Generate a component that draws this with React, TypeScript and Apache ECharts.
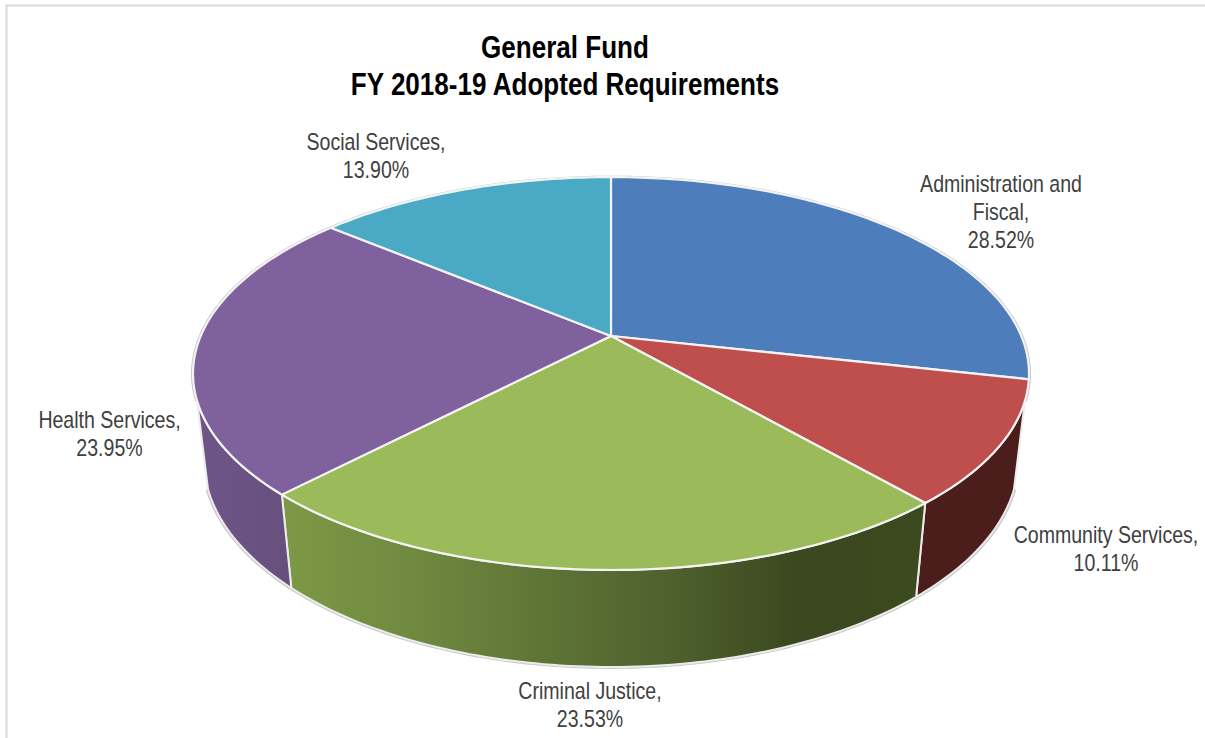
import React, { useEffect, useRef } from "react";
import * as echarts from "echarts";

const TITLE = "General Fund\nFY 2018-19 Adopted Requirements";
const CATEGORIES = ["Administration and\nFiscal", "Community Services", "Criminal Justice", "Health Services", "Social Services"];
const SHARES = [28.52, 10.11, 23.53, 23.95, 13.9];
const TOP_COLORS = ["#4d7ebb", "#bf4f4c", "#9bba59", "#7f619d", "#4aa9c4"];
const WALL_STOPS: string[][] = [
  ["#2c4a70", "#2c4a70"],
  ["#4b1e1c", "#4b1e1c", "#4a1d1b"],
  ["#7d9846", "#708a40", "#5f7536", "#4f612e", "#3b481f", "#3c4a20"],
  ["#6d5588", "#6a5283", "#674f7d"],
  ["#2c6a7c", "#2c6a7c"],
];
const LABEL_ANCHORS = [[1001, 212], [1106, 549], [590, 705], [109.5, 434], [376, 156]];

const FONT = '"Liberation Sans", Arial, sans-serif';
const LABEL_SCALE = 0.85;
const TITLE_SCALE = 0.827;

// Perspective projection of the pie disc
const CX = 611, APEX_Y = 336, A = 410.3, B = 189.3, K = 0.191, DEPTH = 86.9, W_DROP = 0.0255;
const SILHOUETTE_V = 0.322;
const total = SHARES.reduce((s, v) => s + v, 0);

function project(deg: number, bottom: boolean, r = 1): number[] {
  const a = (deg * Math.PI) / 180;
  const u = Math.sin(a) * r, v = -Math.cos(a) * r;
  const w = 1 - K * v + (bottom ? W_DROP : 0);
  return [CX + (A * u) / w, APEX_Y + (B * v + (bottom ? DEPTH : 0)) / w];
}
function arc(from: number, to: number, bottom: boolean, r = 1): number[][] {
  const n = Math.max(2, Math.ceil(Math.abs(to - from)));
  const pts: number[][] = [];
  for (let i = 0; i <= n; i++) pts.push(project(from + ((to - from) * i) / n, bottom, r));
  return pts;
}

const WALL_FROM = (Math.acos(-SILHOUETTE_V) * 180) / Math.PI;
const WALL_TO = 360 - WALL_FROM;

function renderSlice(params: any, api: any) {
  const idx = params.dataIndex;
  const value = api.value(0);
  let before = 0;
  for (let i = 0; i < idx; i++) before += SHARES[i];
  const a0 = (before / total) * 360;
  const a1 = ((before + value) / total) * 360;
  const children: any[] = [];

  // back rim
  const rimEnd = Math.min(a1, WALL_FROM);
  if (a0 < rimEnd) {
    children.push({ type: "polyline", shape: { points: arc(a0, rimEnd, false, 1.002) }, style: { fill: "none", stroke: "#c2c2c2", lineWidth: 2.2 } });
  }
  const rimStart = Math.max(a0, WALL_TO);
  if (rimStart < a1) {
    children.push({ type: "polyline", shape: { points: arc(rimStart, a1, false, 1.002) }, style: { fill: "none", stroke: "#c2c2c2", lineWidth: 2.2 } });
  }

  // side wall
  const w0 = Math.max(a0, WALL_FROM), w1 = Math.min(a1, WALL_TO);
  if (w0 < w1) {
    const topArc = arc(w0, w1, false);
    const botArc = arc(w0, w1, true);
    const xs = topArc.concat(botArc).map((p) => p[0]);
    const minX = Math.min(...xs), maxX = Math.max(...xs);
    const stops = WALL_STOPS[idx];
    children.push({ type: "polyline", shape: { points: arc(w0, w1, true, 1.003) }, style: { fill: "none", stroke: "#c8c8c8", lineWidth: 2 } });
    children.push({
      type: "polygon",
      shape: { points: topArc.concat(botArc.slice().reverse()) },
      style: {
        fill: {
          type: "linear", x: minX, y: 0, x2: maxX, y2: 0, global: true,
          colorStops: stops.map((color, i) => ({ offset: i / (stops.length - 1), color })),
        },
        stroke: "#ececec",
        lineWidth: 2,
      },
    });
  }

  // top face
  children.push({
    type: "polygon",
    shape: { points: [project(0, false, 0) as number[]].concat(arc(a0, a1, false)) },
    style: { fill: TOP_COLORS[idx], stroke: "#f4f4f4", lineWidth: 2.2, lineJoin: "round" },
  });

  // label
  children.push({
    type: "text",
    x: LABEL_ANCHORS[idx][0],
    y: LABEL_ANCHORS[idx][1],
    scaleX: LABEL_SCALE,
    z2: 10,
    style: {
      text: `${CATEGORIES[idx]},\n${value.toFixed(2)}%`,
      align: "center",
      verticalAlign: "middle",
      fontFamily: FONT,
      fontSize: 23,
      lineHeight: 28,
      fill: "#404040",
    },
  });
  return { type: "group", children };
}

export default function App() {
  const ref = useRef<HTMLDivElement>(null);
  useEffect(() => {
    document.body.style.margin = "0";
    const chart = echarts.init(ref.current!, null, { renderer: "svg" });
    chart.setOption({
      animation: false,
      backgroundColor: "#ffffff",
      graphic: [
        { type: "polyline", shape: { points: [[6.5, 745], [6.5, 5.5], [1210, 5.5]] }, style: { fill: "none", stroke: "#d9d9d9", lineWidth: 2 }, silent: true },
        {
          type: "text",
          x: 565,
          y: 66,
          scaleX: TITLE_SCALE,
          silent: true,
          style: { text: TITLE, align: "center", verticalAlign: "middle", fontFamily: FONT, fontSize: 31.5, fontWeight: "bold", fill: "#000000", lineHeight: 37 },
        },
      ],
      series: [
        {
          type: "custom",
          coordinateSystem: "none",
          renderItem: renderSlice,
          data: SHARES.map((v) => [v]),
          silent: true,
        },
      ],
    });
    return () => chart.dispose();
  }, []);
  return <div ref={ref} style={{ position: "fixed", left: 0, top: 0, width: 1205, height: 738 }} />;
}
